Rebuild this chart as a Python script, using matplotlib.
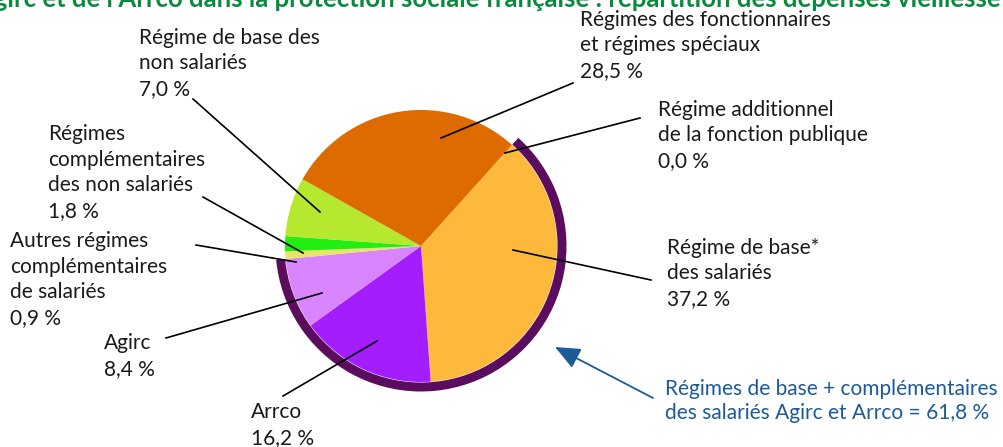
import matplotlib
matplotlib.use('Agg')
import matplotlib.pyplot as plt
from matplotlib.patches import Wedge

# parts des dépenses vieillesse (%), dans le sens horaire
categories = ['Régime de base*\ndes salariés', 'Arrco', 'Agirc',
              'Autres régimes\ncomplémentaires\nde salariés',
              'Régimes\ncomplémentaires\ndes non salariés',
              'Régime de base des\nnon salariés',
              'Régimes des fonctionnaires\net régimes spéciaux',
              'Régime additionnel\nde la fonction publique']
values = [37.2, 16.2, 8.4, 0.9, 1.8, 7.0, 28.5, 0.0]
colors = ['#FDB93B', '#A31DFF', '#D985FF', '#E9E36A', '#22EE11',
          '#B5E82E', '#DD6B00', '#DD6B00']
salaries_share = values[0] + values[1] + values[2]

W, H = 1004, 447
plt.rcParams['font.family'] = ['Lato', 'DejaVu Sans']

fig = plt.figure(figsize=(W / 100, H / 100), dpi=100)
ax = fig.add_axes([0, 0, 1, 1])

def Y(py):
    return H - py

cx, cy, rad = 421, Y(246), 136
start = 48
ax.pie(values, colors=colors, startangle=start, counterclock=False,
       center=(cx, cy), radius=rad, wedgeprops=dict(linewidth=0))

# arc des régimes de salariés
ax.add_patch(Wedge((cx, cy), rad + 9.5, start - salaries_share * 3.6, start,
                   width=9, facecolor='#5C0C5E', edgecolor='none'))

ax.set_xlim(0, W)
ax.set_ylim(0, H)
ax.set_aspect('equal')
ax.axis('off')

fs = 15
step = 24
# label position (x, first baseline) and leader line (text end -> slice)
layout = [
    ((667, 257), ((651, 280), (513, 250))),
    ((251, 420), ((283, 396), (377, 341))),
    ((104, 351), ((166, 338), (322, 293))),
    ((10, 252), ((196, 245), (296, 262))),
    ((48, 145), ((203, 197), (303, 253))),
    ((139, 47), ((193, 99), (320, 212))),
    ((580, 29), ((573, 83), (441, 138))),
    ((658, 119), ((640, 118), (505, 153))),
]
for cat, val, ((tx, ty), (p0, p1)) in zip(categories, values, layout):
    label = cat + '\n' + f'{val:.1f} %'.replace('.', ',')
    n = label.count('\n')
    ax.text(tx, Y(ty + n * step), label, fontsize=fs, color='#1a1a1a',
            ha='left', va='baseline', linespacing=1.344)
    ax.plot([p0[0], p1[0]], [Y(p0[1]), Y(p1[1])], color='black', lw=1.2)

blue = '#1C5A98'
total = f'{salaries_share:.1f} %'.replace('.', ',')
ax.text(665, Y(419), 'Régimes de base + complémentaires\n'
        'des salariés Agirc et Arrco = ' + total,
        fontsize=fs, color=blue, ha='left', va='baseline', linespacing=1.23)
ax.annotate('', xy=(555, Y(347)), xytext=(653, Y(398)),
            arrowprops=dict(arrowstyle='-|>,head_length=0.7,head_width=0.3',
                            color=blue, lw=1.3, mutation_scale=22,
                            shrinkA=0, shrinkB=0))

ax.text(-125, Y(7), "Part de l'Agirc et de l'Arrco dans la protection sociale "
        "française : répartition des dépenses vieillesse",
        fontsize=18.5, fontweight='bold', color='#0A8A3C', ha='left',
        va='baseline')

fig.savefig('out.png', dpi=100)
